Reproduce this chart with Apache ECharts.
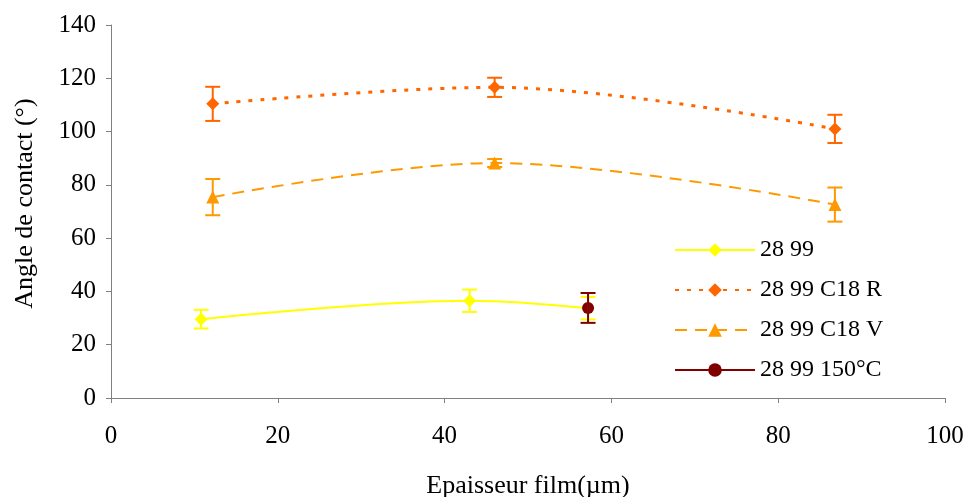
<!DOCTYPE html>
<html><head><meta charset="utf-8">
<script src="https://cdn.jsdelivr.net/npm/echarts@6/dist/echarts.min.js"></script>
<style>html,body{margin:0;padding:0;background:#fff}#c{width:970px;height:497px}</style>
</head><body><div id="c"></div>
<script>
// Data
const names = ['28 99', '28 99 C18 R', '28 99 C18 V', '28 99 150°C'];
const x2899 = [10.8, 43.0, 57.2];
const y2899 = [29.6, 36.5, 33.7];
const e2899 = [3.5, 4.2, 4.2];
const xR = [12.2, 46.0, 86.8];
const yR = [110.4, 116.6, 101.0];
const eR = [6.4, 3.6, 5.3];
const xV = [12.2, 46.0, 86.8];
const yV = [75.4, 88.2, 72.6];
const eV = [6.8, 1.5, 6.4];
const x150 = [57.2];
const y150 = [33.8];
const e150 = [5.6];
const xTicks = [0, 20, 40, 60, 80, 100];
const yTicks = [0, 20, 40, 60, 80, 100, 120, 140];

const colors = ['#FFFF00', '#FF6600', '#FF9900', '#800000'];
const font = 'Liberation Serif';

function pairs(xs, ys) { return xs.map((x, i) => [x, ys[i]]); }
function errData(xs, ys, es) { return xs.map((x, i) => [x, ys[i] - es[i], ys[i] + es[i]]); }

function errSeries(xs, ys, es, color) {
  return {
    type: 'custom',
    data: errData(xs, ys, es),
    z: 5,
    silent: true,
    renderItem: function (params, api) {
      const x = api.value(0);
      const lo = api.coord([x, api.value(1)]);
      const hi = api.coord([x, api.value(2)]);
      const w = 7.5;
      const st = { stroke: color, lineWidth: 2 };
      return {
        type: 'group',
        children: [
          { type: 'line', shape: { x1: lo[0], y1: lo[1], x2: hi[0], y2: hi[1] }, style: st },
          { type: 'line', shape: { x1: lo[0] - w, y1: lo[1], x2: lo[0] + w, y2: lo[1] }, style: st },
          { type: 'line', shape: { x1: hi[0] - w, y1: hi[1], x2: hi[0] + w, y2: hi[1] }, style: st }
        ]
      };
    }
  };
}

const chart = echarts.init(document.getElementById('c'));
chart.setOption({
  animation: false,
  backgroundColor: '#fff',
  grid: { left: 111, right: 25, top: 25, bottom: 99, containLabel: false, outerBoundsMode: 'none' },
  legend: {
    orient: 'vertical',
    left: 669, top: 233,
    itemWidth: 80, itemHeight: 17, itemGap: 16,
    data: names,
    textStyle: { fontFamily: font, fontSize: 24, color: '#000' }
  },
  xAxis: {
    type: 'value', min: 0, max: 100, interval: 20,
    name: 'Epaisseur film(µm)', nameLocation: 'middle', nameGap: 75,
    nameTextStyle: { fontFamily: font, fontSize: 26, color: '#000', verticalAlign: 'top' },
    axisLine: { lineStyle: { color: '#808080', width: 1 } },
    axisTick: { show: true, inside: false, length: 5, lineStyle: { color: '#808080' } },
    axisLabel: { fontFamily: font, fontSize: 25, color: '#000', margin: 26,
      formatter: v => xTicks.includes(v) ? String(v) : '' },
    splitLine: { show: false }
  },
  yAxis: {
    type: 'value', min: 0, max: 140, interval: 20,
    name: 'Angle de contact (°)', nameLocation: 'middle', nameGap: 73, nameRotate: 90,
    nameTextStyle: { fontFamily: font, fontSize: 26, color: '#000', padding: [0, 0, 0, 16] },
    axisLine: { show: true, lineStyle: { color: '#808080', width: 1 } },
    axisTick: { show: true, inside: false, length: 5, lineStyle: { color: '#808080' } },
    axisLabel: { fontFamily: font, fontSize: 25, color: '#000', margin: 15,
      formatter: v => yTicks.includes(v) ? String(v) : '' },
    splitLine: { show: false }
  },
  series: [
    { name: names[0], type: 'line', smooth: 0.35, data: pairs(x2899, y2899), color: colors[0],
      symbol: 'diamond', symbolSize: 13, lineStyle: { width: 2, color: colors[0] },
      itemStyle: { color: colors[0] }, z: 3 },
    { name: names[1], type: 'line', smooth: 0.35, data: pairs(xR, yR), color: colors[1],
      symbol: 'diamond', symbolSize: 13, lineStyle: { width: 3, type: [4, 8], color: colors[1] },
      itemStyle: { color: colors[1] }, z: 3 },
    { name: names[2], type: 'line', smooth: 0.35, data: pairs(xV, yV), color: colors[2],
      symbol: 'triangle', symbolSize: 13, lineStyle: { width: 2, type: [12, 8], color: colors[2] },
      itemStyle: { color: colors[2] }, z: 3 },
    { name: names[3], type: 'line', data: pairs(x150, y150), color: colors[3],
      symbol: 'circle', symbolSize: 12, lineStyle: { width: 2, color: colors[3] },
      itemStyle: { color: colors[3] }, z: 4 },
    errSeries(x2899, y2899, e2899, colors[0]),
    errSeries(xR, yR, eR, colors[1]),
    errSeries(xV, yV, eV, colors[2]),
    errSeries(x150, y150, e150, colors[3])
  ]
});
</script></body></html>
